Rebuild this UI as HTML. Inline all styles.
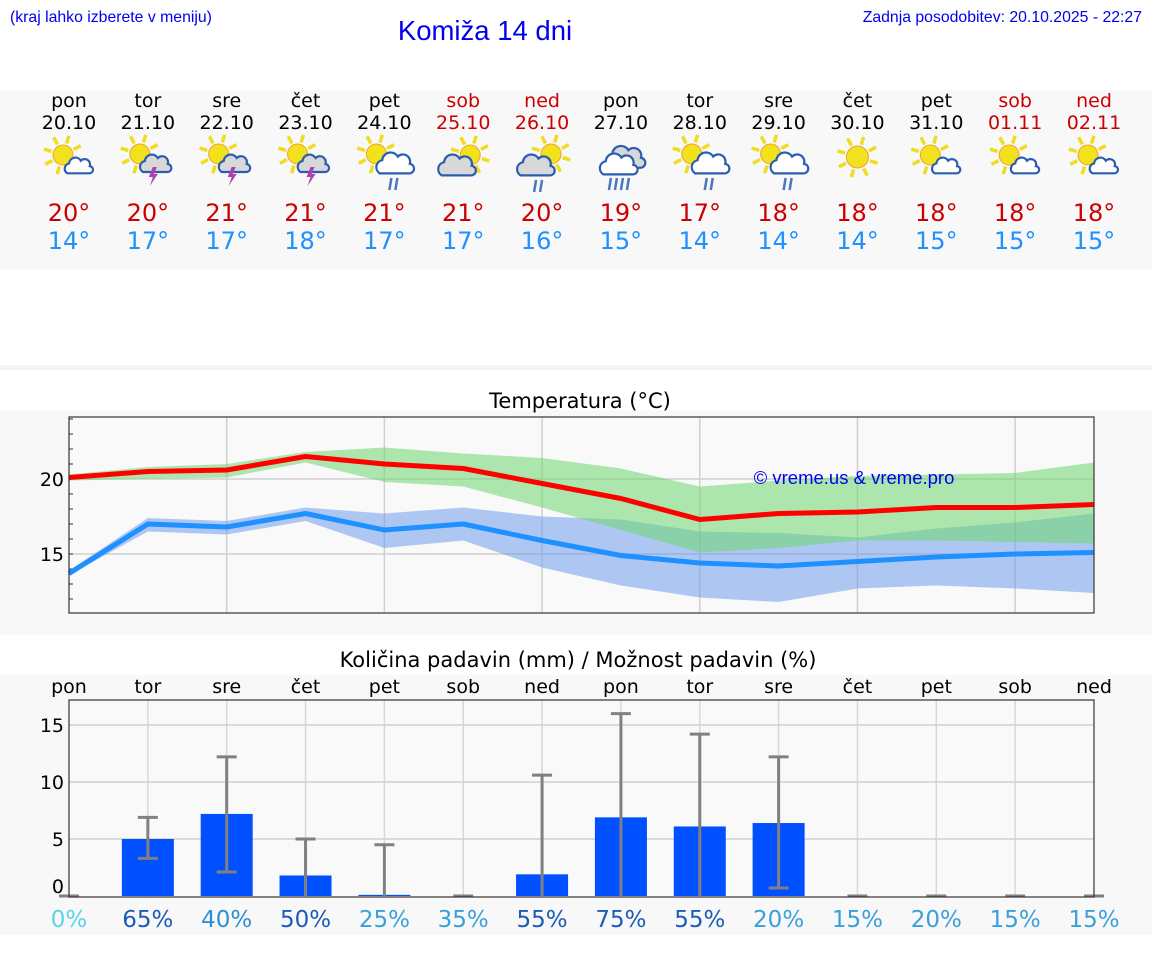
<!DOCTYPE html>
<html><head><meta charset="utf-8"><style>
html,body{margin:0;padding:0;background:#fff;width:1152px;height:975px;overflow:hidden;font-family:"Liberation Sans","DejaVu Sans",sans-serif}
svg{display:block}
</style></head><body>
<svg id="s" width="1152" height="975" xmlns="http://www.w3.org/2000/svg" font-family="DejaVu Sans, Liberation Sans, sans-serif">
<rect x="0" y="90" width="1152" height="180" fill="#f8f8f8"/>
<rect x="0" y="365" width="1152" height="5" fill="#f4f4f4"/>
<rect x="0" y="410" width="1152" height="225" fill="#f8f8f8"/>
<rect x="0" y="675" width="1152" height="260" fill="#f8f8f8"/>
<text x="10" y="22" font-size="15.8" fill="#0000ee" font-family="Liberation Sans, sans-serif">(kraj lahko izberete v meniju)</text>
<text x="485" y="40" font-size="27.5" fill="#0000ee" text-anchor="middle" font-family="Liberation Sans, sans-serif">Komiža 14 dni</text>
<text x="1142" y="22" font-size="15.8" fill="#0000ee" text-anchor="end" font-family="Liberation Sans, sans-serif">Zadnja posodobitev: 20.10.2025 - 22:27</text>
<text x="580" y="408" font-size="21" fill="#000" text-anchor="middle">Temperatura (°C)</text>
<text x="578" y="667" font-size="21" fill="#000" text-anchor="middle">Količina padavin (mm) / Možnost padavin (%)</text>
<g id="g"></g>
<text x="854" y="484" font-size="18.5" fill="#0000ee" text-anchor="middle" font-family="Liberation Sans, sans-serif">© vreme.us &amp; vreme.pro</text>
</svg>
<script>
const dayNames=["pon","tor","sre","čet","pet","sob","ned","pon","tor","sre","čet","pet","sob","ned"];
const dates=["20.10","21.10","22.10","23.10","24.10","25.10","26.10","27.10","28.10","29.10","30.10","31.10","01.11","02.11"];
const icons=["sc","st","st","st","sr","cs","csr","rain","sr","sr","sun","sc","sc","sc"];
const maxT=[20,20,21,21,21,21,20,19,17,18,18,18,18,18];
const minT=[14,17,17,18,17,17,16,15,14,14,14,15,15,15];
const tMax=[20.1,20.5,20.6,21.5,21.0,20.7,19.7,18.7,17.3,17.7,17.8,18.1,18.1,18.3];
const tMaxHi=[20.3,20.8,21.0,21.8,22.1,21.7,21.4,20.7,19.5,19.9,20.2,20.3,20.4,21.1];
const tMaxLo=[19.9,20.0,20.1,21.1,19.8,19.5,18.1,16.6,15.1,15.4,15.9,15.9,15.8,15.7];
const tMin=[13.7,17.0,16.8,17.7,16.6,17.0,15.9,14.9,14.4,14.2,14.5,14.8,15.0,15.1];
const tMinHi=[13.9,17.4,17.2,18.1,17.7,18.1,17.5,17.3,16.5,16.4,16.1,16.7,17.1,17.7];
const tMinLo=[13.6,16.5,16.3,17.2,15.4,15.9,14.1,12.9,12.1,11.8,12.7,12.9,12.7,12.4];
const tTicks=[15,20];
const precip=[0,5.0,7.2,1.8,0.1,0,1.9,6.9,6.1,6.4,0,0,0,0];
const pHi=[0,6.9,12.2,5.0,4.5,0,10.6,16.0,14.2,12.2,0,0,0,0];
const pLo=[0,3.3,2.1,0,0,0,0,0,0,0.7,0,0,0,0];
const chance=[0,65,40,50,25,35,55,75,55,20,15,20,15,15];
const pTicks=[0,5,10,15];

const NS="http://www.w3.org/2000/svg";const G=document.getElementById('g');
function mk(t,a,p){const e=document.createElementNS(NS,t);for(const k in a)e.setAttribute(k,a[k]);(p||G).appendChild(e);return e;}
const X0=69,X1=1094,n=14;
const xs=i=>X0+i*(X1-X0)/(n-1);
const ty=v=>479-(v-20)*15;
const py=v=>896-v*11.4;
let e;
for(let i=0;i<n;i++){
 const x=xs(i),we=(dayNames[i]==="sob"||dayNames[i]==="ned");
 e=mk('text',{x:x,y:107,'font-size':19,'text-anchor':'middle',fill:we?'#cc0000':'#000'});e.textContent=dayNames[i];
 
 
 e=mk('text',{x:x,y:129,'font-size':19,'text-anchor':'middle',fill:we?'#cc0000':'#000'});e.textContent=dates[i];
 
 
 e=mk('text',{x:x,y:221,'font-size':24,'text-anchor':'middle',fill:'#cc0000'});e.textContent=maxT[i]+"°";
 
 
 e=mk('text',{x:x,y:249,'font-size':24,'text-anchor':'middle',fill:'#1e90ff'});e.textContent=minT[i]+"°";
 
 
 const ic=mk('g',{});
 
 
 drawIcon(ic,x,icons[i]);
}
function sun(p,cx,cy,r){for(let k=0;k<8;k++){const a=k*Math.PI/4+0.3;mk('line',{x1:cx+Math.cos(a)*(r+2),y1:cy+Math.sin(a)*(r+2),x2:cx+Math.cos(a)*(r+10),y2:cy+Math.sin(a)*(r+10),stroke:'#f0dc20','stroke-width':3.5},p);}mk('circle',{cx:cx,cy:cy,r:r,fill:'#f2e21e',stroke:'#f0a030','stroke-width':1},p);}
function cloud(p,cx,cy,s,fill){mk('path',{d:`M${cx-13*s} ${cy+7*s} a${6*s} ${6*s} 0 0 1 ${2*s} ${-11*s} a${7*s} ${7*s} 0 0 1 ${13*s} ${-3*s} a${6*s} ${6*s} 0 0 1 ${10*s} ${6*s} a${4*s} ${4*s} 0 0 1 ${-1*s} ${8*s} z`,fill:fill,stroke:'#2a5db0','stroke-width':2.2},p);}
function rain(p,cx,cy,k){for(let j=0;j<k;j++)mk('line',{x1:cx+j*6+2,y1:cy,x2:cx+j*6,y2:cy+12,stroke:'#4a78c0','stroke-width':2.5},p);}
function drawIcon(p,x,t){
 if(t==="sun"){sun(p,x,157,11);return;}
 if(t==="sc"){sun(p,x-6,155,10);cloud(p,x+10,167,0.9,'#fff');return;}
 if(t==="st"){sun(p,x-8,154,10);cloud(p,x+8,165,1.0,'#d8d8d8');mk('path',{d:`M${x+5} ${167} l-4 10 h4 l-3 9 l8 -12 h-4 l3 -7z`,fill:'#b040b0'},p);return;}
 if(t==="sr"){sun(p,x-8,154,10);cloud(p,x+11,165,1.2,'#fff');rain(p,x+5,178,2);return;}
 if(t==="cs"){sun(p,x+7,155,10);cloud(p,x-6,167,1.2,'#d8d8d8');return;}
 if(t==="csr"){sun(p,x+9,154,10);cloud(p,x-6,167,1.2,'#d8d8d8');rain(p,x-8,180,2);return;}
 if(t==="rain"){cloud(p,x+5,159,1.25,'#d8d8d8');cloud(p,x-2,166,1.2,'#fff');rain(p,x-12,178,4);return;}
}

const TT=417,TB=613;
mk('rect',{x:X0,y:TT,width:X1-X0,height:TB-TT,fill:'#f9f9f9'});
for(let i=2;i<n-1;i+=2){e=mk('line',{x1:xs(i),y1:TT,x2:xs(i),y2:TB,stroke:'#d0d0d0','stroke-width':1.5});}
for(const v of tTicks){e=mk('line',{x1:X0,y1:ty(v),x2:X1,y2:ty(v),stroke:'#d0d0d0','stroke-width':1.5});
 e=mk('text',{x:X0-5,y:ty(v)+7,'font-size':19,'text-anchor':'end',fill:'#000'});e.textContent=v;}
for(let v=12;v<=24;v++){mk('line',{x1:X0,y1:ty(v),x2:X0+4,y2:ty(v),stroke:'#333','stroke-width':1});}
function band(hi,lo,fill,name){let d='';hi.forEach((v,i)=>d+=(i?'L':'M')+xs(i)+' '+ty(v));for(let i=lo.length-1;i>=0;i--)d+='L'+xs(i)+' '+ty(lo[i]);e=mk('path',{d:d+'Z',fill:fill});}
function line(a,c,name){e=mk('polyline',{points:a.map((v,i)=>xs(i)+','+ty(v)).join(' '),fill:'none',stroke:c,'stroke-width':5,'stroke-linejoin':'round'});}
band(tMinHi,tMinLo,'rgba(100,150,235,0.5)','min-temp-range');
band(tMaxHi,tMaxLo,'rgba(110,215,110,0.55)','max-temp-range');
line(tMax,'#ff0000','max-temp-line');
line(tMin,'#1e90ff','min-temp-line');
mk('rect',{x:X0,y:TT,width:X1-X0,height:TB-TT,fill:'none',stroke:'#333','stroke-width':1.2});

const PT=700,PB=897;
mk('rect',{x:X0,y:PT,width:X1-X0,height:PB-PT,fill:'#f9f9f9'});
for(let i=1;i<n-1;i++){e=mk('line',{x1:xs(i),y1:PT,x2:xs(i),y2:PB,stroke:'#d8d8d8','stroke-width':1.5});}
for(const v of pTicks){if(v>0){e=mk('line',{x1:X0,y1:py(v),x2:X1,y2:py(v),stroke:'#d0d0d0','stroke-width':1.5});}
 e=mk('text',{x:X0-5,y:(v===0?py(v)-3:py(v)+7),'font-size':19,'text-anchor':'end',fill:'#000'});e.textContent=v;}
for(let i=0;i<n;i++){
 const x=xs(i);
 e=mk('text',{x:x,y:693,'font-size':19,'text-anchor':'middle',fill:'#000'});e.textContent=dayNames[i];
 if(precip[i]>0){e=mk('rect',{x:x-26,y:py(precip[i]),width:52,height:py(0)-py(precip[i]),fill:'#0050ff'});}
 e=mk('g',{});
 mk('line',{x1:x,y1:py(pHi[i]),x2:x,y2:py(pLo[i]),stroke:'#808080','stroke-width':3},e);
 mk('line',{x1:x-10,y1:py(pHi[i]),x2:x+10,y2:py(pHi[i]),stroke:'#808080','stroke-width':3},e);
 if(pLo[i]>0)mk('line',{x1:x-10,y1:py(pLo[i]),x2:x+10,y2:py(pLo[i]),stroke:'#808080','stroke-width':3},e);
 const c=chance[i];const col=c===0?'#5ad4e6':c>=50?'#1a5cb8':c>=40?'#2f8fd6':'#3aa0dc';
 e=mk('text',{x:x,y:927,'font-size':23,'text-anchor':'middle',fill:col});e.textContent=c+'%';
}
mk('rect',{x:X0,y:PT,width:X1-X0,height:PB-PT,fill:'none',stroke:'#333','stroke-width':1.2});
</script>
</body></html>
